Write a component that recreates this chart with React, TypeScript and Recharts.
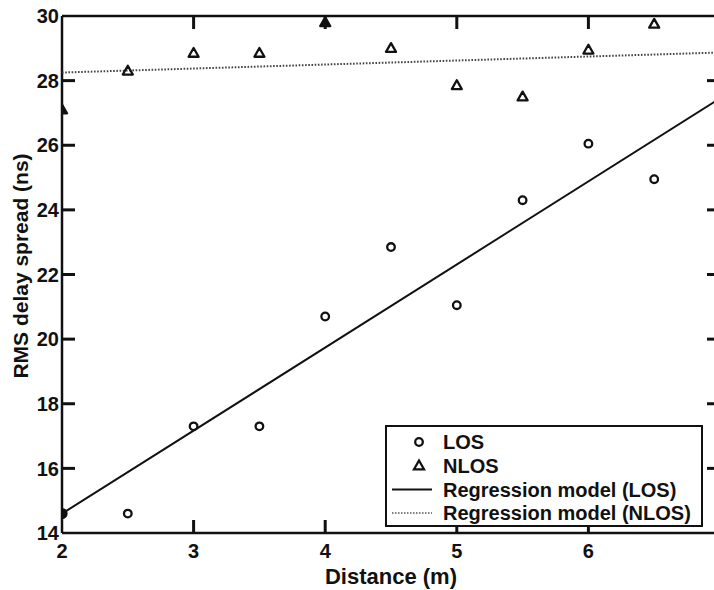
import React from 'react';
import { ScatterChart, Scatter, XAxis, YAxis, ReferenceLine, Legend, Label } from 'recharts';

const DISTANCES = [2, 2.5, 3, 3.5, 4, 4.5, 5, 5.5, 6, 6.5];
const LOS_VALUES = [14.6, 14.6, 17.3, 17.3, 20.7, 22.85, 21.05, 24.3, 26.05, 24.95];
const NLOS_VALUES = [27.1, 28.3, 28.85, 28.85, 29.8, 29.0, 27.85, 27.5, 28.95, 29.75];
const FIT_X = [2, 7];
const LOS_FIT = [14.6, 27.45];
const NLOS_FIT = [28.25, 28.87];
const X_TICKS = [2, 3, 4, 5, 6, 7];
const X_INNER_TICKS = [3, 4, 5, 6];
const Y_TICKS = [14, 16, 18, 20, 22, 24, 26, 28, 30];
const Y_INNER_TICKS = [16, 18, 20, 22, 24, 26, 28];
const X_DOMAIN = [2, 7];
const Y_DOMAIN = [14, 30];
const LEGEND_LABELS = ['LOS', 'NLOS', 'Regression model (LOS)', 'Regression model (NLOS)'];
const FILLED_LOS = [0];
const FILLED_NLOS = [0, 4];

const CHART_W = 722;
const CHART_H = 590;
const MARGIN = { top: 16, right: 2, bottom: 7, left: 12 };
const TICK_LEN = 13;
const INK = '#111';
const FONT = '"Liberation Sans", Arial, Helvetica, sans-serif';

const losData = DISTANCES.map((x, i) => ({ x, y: LOS_VALUES[i], i }));
const nlosData = DISTANCES.map((x, i) => ({ x, y: NLOS_VALUES[i], i }));
const losFit = FIT_X.map((x, i) => ({ x, y: LOS_FIT[i] }));
const nlosFit = FIT_X.map((x, i) => ({ x, y: NLOS_FIT[i] }));

// frame tick stubs, positioned through the chart's own scales
const frameTicks = [
  ...X_INNER_TICKS.map((t) => ({ x: t, y: Y_DOMAIN[0], dir: 'up' })),
  ...X_INNER_TICKS.map((t) => ({ x: t, y: Y_DOMAIN[1], dir: 'down' })),
  ...Y_INNER_TICKS.map((t) => ({ x: X_DOMAIN[0], y: t, dir: 'right' })),
  ...Y_INNER_TICKS.map((t) => ({ x: X_DOMAIN[1], y: t, dir: 'left' })),
];

const CircleShape = (props: any) => {
  const { cx, cy, payload } = props;
  const filled = FILLED_LOS.includes(payload?.i);
  return (
    <circle cx={cx} cy={cy} r={filled ? 4.5 : 3.8} fill={filled ? INK : 'none'} stroke={INK} strokeWidth={2.3} />
  );
};

const triPath = (cx: number, cy: number) =>
  `M${cx},${cy - 5.2} L${cx + 5},${cy + 3.6} L${cx - 5},${cy + 3.6} Z`;

const TriangleShape = (props: any) => {
  const { cx, cy, payload } = props;
  const filled = FILLED_NLOS.includes(payload?.i);
  return (
    <path d={triPath(cx, cy)} fill={filled ? INK : 'none'} stroke={INK} strokeWidth={2.3} strokeLinejoin="round" />
  );
};

const StubShape = (props: any) => {
  const cx = Number(props.cx);
  const cy = Number(props.cy);
  const dir = props.payload?.dir;
  let x2 = cx;
  let y2 = cy;
  if (dir === 'up') y2 = cy - TICK_LEN;
  else if (dir === 'down') y2 = cy + TICK_LEN;
  else if (dir === 'right') x2 = cx + TICK_LEN;
  else x2 = cx - TICK_LEN;
  return <line x1={cx} y1={cy} x2={x2} y2={y2} stroke={INK} strokeWidth={3} />;
};

const NoShape = () => <g />;

const XTick = (props: any) => (
  <text x={props.x} y={Number(props.y) + 25} textAnchor="middle" fontFamily={FONT} fontWeight="bold" fontSize={20} fill={INK}>
    {props.payload?.value}
  </text>
);

const YTick = (props: any) => (
  <text x={Number(props.x) - 3} y={props.y} dy="0.36em" textAnchor="end" fontFamily={FONT} fontWeight="bold" fontSize={20} fill={INK}>
    {props.payload?.value}
  </text>
);

const XTitle = (lp: any) => {
  const vb = lp.viewBox || {};
  return (
    <text x={Number(vb.x) + Number(vb.width) / 2} y={584} textAnchor="middle" fontFamily={FONT} fontWeight="bold" fontSize={22} fill={INK}>
      Distance (m)
    </text>
  );
};

const YTitle = () => (
  <text
    x={20}
    y={266}
    transform="rotate(-90, 20, 266)"
    textAnchor="middle"
    dominantBaseline="central"
    fontFamily={FONT}
    fontWeight="bold"
    fontSize={21}
    fill={INK}
  >
    RMS delay spread (ns)
  </text>
);

const LegendBox = () => {
  const rowY = (i: number) => 17 + i * 23.7;
  return (
    <svg width={318} height={102} style={{ display: 'block' }}>
      <rect x={1} y={1} width={316} height={100} fill="#fff" stroke={INK} strokeWidth={2} />
      <circle cx={34} cy={rowY(0)} r={3.8} fill="none" stroke={INK} strokeWidth={2.3} />
      <path d={triPath(34, rowY(1))} fill="none" stroke={INK} strokeWidth={2.3} />
      <line x1={7} x2={47} y1={rowY(2)} y2={rowY(2)} stroke={INK} strokeWidth={2} />
      <line x1={7} x2={47} y1={rowY(3)} y2={rowY(3)} stroke="#555" strokeWidth={1.5} strokeDasharray="1.5 1.5" />
      {LEGEND_LABELS.map((t, i) => (
        <text key={t} x={58} y={rowY(i)} dy="0.36em" fontFamily={FONT} fontWeight="bold" fontSize={20} fill={INK}>
          {t}
        </text>
      ))}
    </svg>
  );
};

export default function App() {
  return (
    <div style={{ position: 'absolute', left: 0, top: 0, width: 714, height: 590, overflow: 'hidden', background: '#fff' }}>
      <ScatterChart width={CHART_W} height={CHART_H} margin={MARGIN}>
        <XAxis
          type="number"
          dataKey="x"
          domain={X_DOMAIN}
          ticks={X_TICKS}
          interval={0}
          allowDataOverflow
          height={50}
          stroke={INK}
          tickSize={0}
          tickMargin={0}
          tickLine={false}
          axisLine={{ stroke: INK, strokeWidth: 2.5 }}
          tick={XTick}
        >
          <Label content={XTitle} />
        </XAxis>
        <YAxis
          type="number"
          dataKey="y"
          domain={Y_DOMAIN}
          ticks={Y_TICKS}
          interval={0}
          allowDataOverflow
          width={50}
          stroke={INK}
          tickSize={0}
          tickMargin={0}
          tickLine={false}
          axisLine={{ stroke: INK, strokeWidth: 2.5 }}
          tick={YTick}
        >
          <Label content={YTitle} />
        </YAxis>
        <ReferenceLine y={30} stroke={INK} strokeWidth={2.5} ifOverflow="visible" />
        <ReferenceLine x={7} stroke={INK} strokeWidth={2.5} ifOverflow="visible" />
        <Scatter
          name="frame ticks"
          data={frameTicks}
          shape={StubShape}
          fill={INK}
          legendType="none"
          isAnimationActive={false}
        />
        <Scatter
          name="Regression model (NLOS)"
          data={nlosFit}
          line={{ stroke: '#444', strokeWidth: 2, strokeDasharray: '1.6 1.6' }}
          shape={NoShape}
          fill="#444"
          isAnimationActive={false}
        />
        <Scatter
          name="Regression model (LOS)"
          data={losFit}
          line={{ stroke: INK, strokeWidth: 2 }}
          shape={NoShape}
          fill={INK}
          isAnimationActive={false}
        />
        <Scatter name="LOS" data={losData} shape={CircleShape} fill={INK} isAnimationActive={false} />
        <Scatter name="NLOS" data={nlosData} shape={TriangleShape} fill={INK} isAnimationActive={false} />
        <Legend
          layout="vertical"
          align="center"
          verticalAlign="middle"
          content={() => <LegendBox />}
          wrapperStyle={{ left: 385, top: 425, width: 318, height: 102 }}
        />
      </ScatterChart>
    </div>
  );
}
